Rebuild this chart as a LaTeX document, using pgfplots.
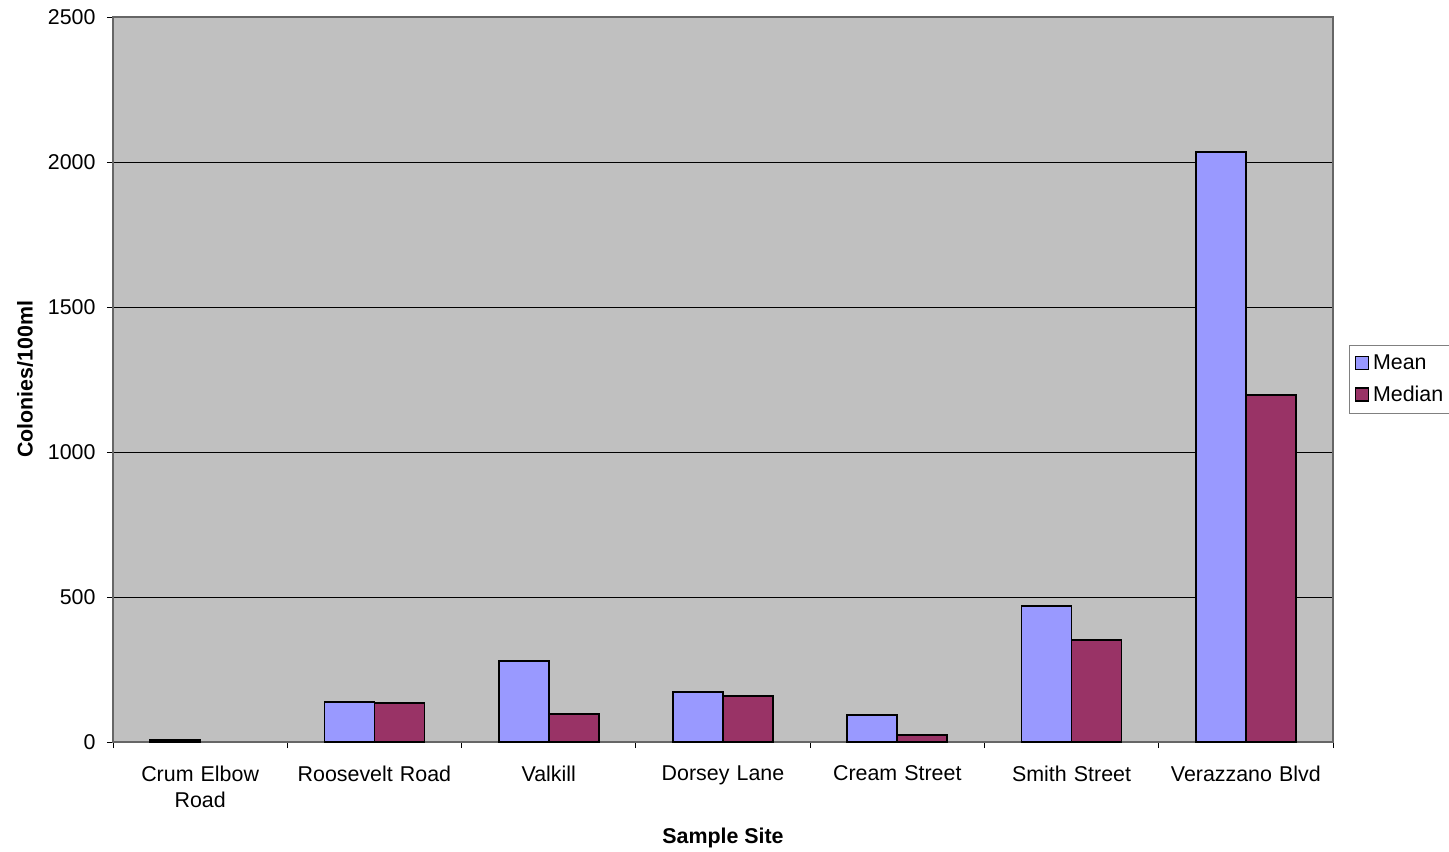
\documentclass[border=0pt]{standalone}
\usepackage{pgfplots}
\pgfplotsset{compat=1.18}
\usepackage{fontspec}
\setmainfont{Liberation Sans}
\definecolor{meanblue}{HTML}{9999FF}
\definecolor{medianred}{HTML}{993366}
\definecolor{plotbg}{HTML}{C0C0C0}
\begin{document}
\fontsize{10.7}{13}\selectfont
\begin{tikzpicture}
% fixed page frame around the plot area
\useasboundingbox (-56.5pt,-54.5pt) rectangle (668pt,371pt);
\begin{axis}[
  scale only axis,
  width=610pt, height=362.5pt,
  ybar=0pt, bar width=25pt,
  xmin=-0.5, xmax=6.5,
  ymin=0, ymax=2500,
  ytick={0,500,...,2500},
  ymajorgrids, grid style={black, line width=0.4pt},
  xtick={0,...,6},
  xticklabels={{Crum Elbow\\Road},{Roosevelt Road},{Valkill},{Dorsey Lane},{Cream Street},{Smith Street},{Verazzano Blvd}},
  xticklabel style={align=center, text width=85pt, yshift=-5pt, font=\fontsize{10.7}{13}\selectfont},
  yticklabel style={xshift=-2pt, font=\fontsize{10.7}{13}\selectfont},
  major x tick style={draw=none},
  minor xtick={-0.5,0.5,...,6.5},
  minor tick length=3pt,
  major tick length=3pt,
  tick align=outside,
  xtick pos=bottom, ytick pos=left,
  tick style={black, line width=0.4pt},
  /pgf/number format/assume math mode=true,
  /pgf/number format/1000 sep={},
  axis background/.style={fill=plotbg},
  axis line style={draw=gray!80!black, line width=0.6pt},
  xlabel={\textbf{Sample Site}},
  ylabel={\textbf{Colonies/100ml}},
  label style={font=\fontsize{10.7}{13}\selectfont},
  xlabel style={at={(axis description cs:0.5,-0.1325)}, anchor=center},
  ylabel style={at={(axis description cs:-0.0721,0.5)}, anchor=center},
  legend style={at={(axis description cs:1,0.5)}, anchor=west, xshift=8pt,
    draw=gray, fill=white, line width=0.5pt, inner sep=2.5pt,
    row sep=2.5pt, font=\fontsize{10.7}{13}\selectfont},
  legend cell align=left,
  legend image code/.code={\draw[#1, line width=0.8pt] (0pt,-3pt) rectangle (6.5pt,3.5pt);},
]
\addplot[fill=meanblue, draw=black, line width=0.8pt] coordinates {
  (0,6) (1,138) (2,279) (3,172) (4,93) (5,469) (6,2034)};
\addplot[fill=medianred, draw=black, line width=0.8pt] coordinates {
  (1,134) (2,97) (3,159) (4,24) (5,352) (6,1197)};
\legend{Mean,Median}
\end{axis}
\end{tikzpicture}
\end{document}
